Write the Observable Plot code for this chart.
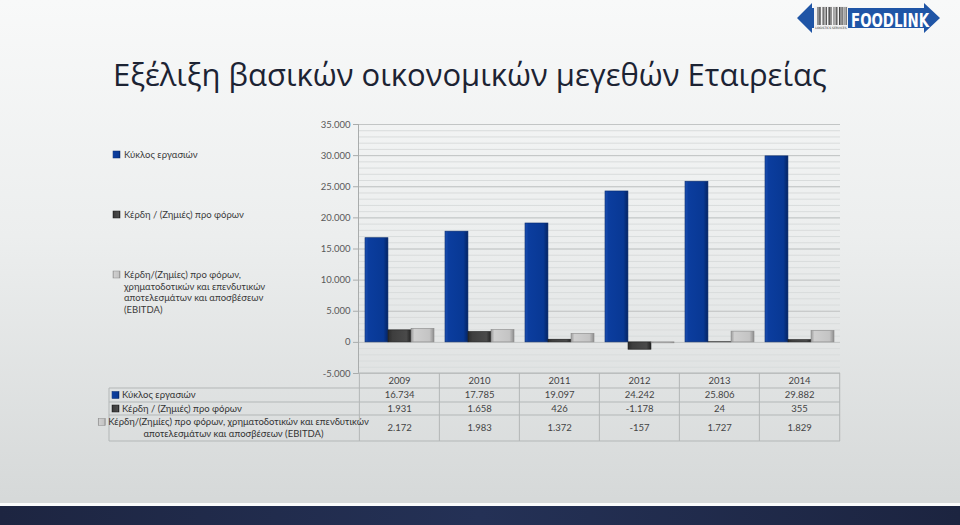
<!DOCTYPE html>
<html>
<head>
<meta charset="utf-8">
<script src="https://cdn.jsdelivr.net/npm/d3@7"></script>
<script src="https://cdn.jsdelivr.net/npm/@observablehq/plot@0.6"></script>
<style>
  html, body { margin: 0; padding: 0; }
  body { width: 960px; height: 525px; overflow: hidden; font-family: Lato, "Open Sans", sans-serif; }
  #page { position: relative; width: 960px; height: 525px;
    background: linear-gradient(#f8f9f9 0%, #eceeee 45%, #d6d9d9 95%); }
  #bg { position: absolute; left: 0; top: 0; }
  #chart { position: absolute; left: 0; top: 110px; }
</style>
</head>
<body>
<div id="page">
<svg id="bg" width="960" height="525">
  <defs>
    <linearGradient id="gBlue" x1="0" x2="1" y1="0" y2="0">
      <stop offset="0" stop-color="#1d4fb0"/>
      <stop offset="0.15" stop-color="#0b3d9e"/>
      <stop offset="0.8" stop-color="#083894"/>
      <stop offset="1" stop-color="#052463"/>
    </linearGradient>
    <linearGradient id="gDark" x1="0" x2="1" y1="0" y2="0">
      <stop offset="0" stop-color="#2c2c2c"/>
      <stop offset="0.2" stop-color="#3e3e3e"/>
      <stop offset="0.8" stop-color="#4a4a4a"/>
      <stop offset="1" stop-color="#222"/>
    </linearGradient>
    <linearGradient id="gLight" x1="0" x2="1" y1="0" y2="0">
      <stop offset="0" stop-color="#9c9c9c"/>
      <stop offset="0.15" stop-color="#cfcfcf"/>
      <stop offset="0.8" stop-color="#c4c4c4"/>
      <stop offset="1" stop-color="#8e8e8e"/>
    </linearGradient>
    <linearGradient id="gBand" x1="0" x2="1" y1="0" y2="0">
      <stop offset="0" stop-color="#1d2541"/>
      <stop offset="0.5" stop-color="#243156"/>
      <stop offset="1" stop-color="#1c2440"/>
    </linearGradient>
  </defs>
  <rect x="0" y="503" width="960" height="3" fill="#fbfcfc"/>
  <rect x="0" y="506" width="960" height="19" fill="url(#gBand)"/>
  <text id="title" x="113" y="86" font-family="'Open Sans', Lato, sans-serif" font-size="31" fill="#1c2333">Εξέλιξη βασικών οικονομικών μεγεθών Εταιρείας</text>
  <g id="legend" font-size="9.5" fill="#3a3a3a"></g>
  <g id="logo"></g>
</svg>
<div id="chart"></div>
</div>
<script>
// ---- data ----
const years = ["2009", "2010", "2011", "2012", "2013", "2014"];
const revenue = [16734, 17785, 19097, 24242, 25806, 29882];
const profitBeforeTax = [1931, 1658, 426, -1178, 24, 355];
const ebitda = [2172, 1983, 1372, -157, 1727, 1829];
const seriesNames = [
  "Κύκλος εργασιών",
  "Κέρδη / (Ζημιές) προ φόρων",
  "Κέρδη/(Ζημίες) προ φόρων, χρηματοδοτικών και επενδυτικών αποτελεσμάτων και αποσβέσεων (EBITDA)"
];
const legendLines = [
  ["Κύκλος εργασιών"],
  ["Κέρδη / (Ζημιές) προ φόρων"],
  ["Κέρδη/(Ζημίες) προ φόρων,", "χρηματοδοτικών και επενδυτικών", "αποτελεσμάτων και αποσβέσεων", "(EBITDA)"]
];
const tableLabels = [
  ["Κύκλος εργασιών"],
  ["Κέρδη / (Ζημιές) προ φόρων"],
  ["Κέρδη/(Ζημίες) προ φόρων, χρηματοδοτικών και επενδυτικών", "αποτελεσμάτων και αποσβέσεων (EBITDA)"]
];
const yTicks = [-5000, 0, 5000, 10000, 15000, 20000, 25000, 30000, 35000];
const yMinor = d3.range(-5000, 35001, 1000);
const fills = ["url(#gBlue)", "url(#gDark)", "url(#gLight)"];
const strokes = ["#062a6e", "#1a1a1a", "#8a8a8a"];
const seriesValues = [revenue, profitBeforeTax, ebitda];

const rows = [];
seriesValues.forEach((vals, s) => years.forEach((y, i) => rows.push({year: y, series: s, value: vals[i]})));

const locale = d3.formatLocale({decimal: ",", thousands: ".", grouping: [3], currency: ["", "€"], minus: "-"});
const fmt = locale.format(",d");

// ---- chart ----
const W = 960, H = 340, mL = 358, mR = 120, mT = 14, mB = 77;
const pIn = 0.14, pOut = 0.07;
const step = (W - mL - mR) / (years.length - pIn + 2 * pOut);
const bw = step * (1 - pIn);
const font = "Lato, 'Open Sans', sans-serif";

const barMarks = [0, 1, 2].map(s => Plot.barY(rows.filter(d => d.series === s), {
  x: "year", y: "value",
  fill: fills[s], stroke: strokes[s], strokeWidth: 0.6,
  insetLeft: s * bw / 3, insetRight: (2 - s) * bw / 3
}));

const chart = Plot.plot({
  width: W, height: H,
  marginLeft: mL, marginRight: mR, marginTop: mT, marginBottom: mB,
  style: {fontFamily: font, fontSize: "9.5px", background: "transparent", color: "#595959"},
  x: {type: "band", domain: years, paddingInner: pIn, paddingOuter: pOut, axis: null},
  y: {domain: [-5000, 35000], axis: null, label: null},
  marks: [
    Plot.ruleY(yMinor, {stroke: "#d9dcdc", strokeWidth: 1}),
    Plot.ruleY(yTicks, {stroke: "#c2c5c5", strokeWidth: 1}),
    Plot.axisY({ticks: yTicks, tickFormat: () => "", tickSize: 5, stroke: "#a9acac", label: null}),
    Plot.axisY({ticks: yTicks, tickFormat: fmt, tickSize: 0, tickPadding: 8, fill: "#595959", label: null}),
    Plot.frame({anchor: "left", stroke: "#a9acac"}),
    ...barMarks
  ]
});
document.getElementById("chart").appendChild(chart);

// ---- data table under the chart, positioned from the scales ----
const xs = chart.scale("x"), ys = chart.scale("y");
const svg = d3.select(chart);
const top0 = ys.apply(-5000);
const rowB = [top0, top0 + 15, top0 + 29, top0 + 42, top0 + 68];
const tableLeft = 109, plotLeft = mL, plotRight = W - mR;
const colEdges = years.map(y => xs.apply(y) - step * pIn / 2).concat([xs.apply(years[years.length - 1]) + bw + step * pIn / 2]);
const tg = svg.append("g").attr("font-family", font).attr("font-size", 9.5).attr("text-anchor", "start");
const lineC = "#b3b7b7";
// horizontal lines
tg.append("line").attr("x1", plotLeft).attr("x2", plotRight).attr("y1", rowB[0]).attr("y2", rowB[0]).attr("stroke", lineC);
rowB.slice(1).forEach(yb => tg.append("line").attr("x1", tableLeft).attr("x2", plotRight).attr("y1", yb).attr("y2", yb).attr("stroke", lineC));
// vertical lines
colEdges.forEach(xe => tg.append("line").attr("x1", xe).attr("x2", xe).attr("y1", rowB[0]).attr("y2", rowB[4]).attr("stroke", lineC));
tg.append("line").attr("x1", tableLeft).attr("x2", tableLeft).attr("y1", rowB[1]).attr("y2", rowB[4]).attr("stroke", lineC);
// header
years.forEach(y => tg.append("text").attr("x", xs.apply(y) + bw / 2).attr("y", (rowB[0] + rowB[1]) / 2).attr("dy", "0.35em")
  .attr("text-anchor", "middle").attr("fill", "#444").text(y));
// rows
seriesValues.forEach((vals, s) => {
  const cy = (rowB[s + 1] + rowB[s + 2]) / 2;
  vals.forEach((v, i) => tg.append("text").attr("x", xs.apply(years[i]) + bw / 2).attr("y", cy).attr("dy", "0.35em")
    .attr("text-anchor", "middle").attr("fill", "#444").text(fmt(v)));
  const lines = tableLabels[s];
  if (lines.length === 1) {
    tg.append("rect").attr("x", tableLeft + 3).attr("y", cy - 3.5).attr("width", 7).attr("height", 7).attr("fill", fills[s]).attr("stroke", strokes[s]).attr("stroke-width", 0.5);
    tg.append("text").attr("x", tableLeft + 13).attr("y", cy).attr("dy", "0.35em").attr("text-anchor", "start").attr("fill", "#333").text(lines[0]);
  } else {
    const cx = (tableLeft + plotLeft) / 2;
    lines.forEach((ln, k) => {
      const t = tg.append("text").attr("x", cx + (k === 0 ? 5 : 0)).attr("y", cy + (k - 0.5) * 12).attr("dy", "0.35em")
        .attr("text-anchor", "middle").attr("fill", "#333").text(ln);
      if (k === 0) {
        const bb = t.node().getBBox();
        tg.append("rect").attr("x", bb.x - 10).attr("y", cy - 6 - 3.5).attr("width", 7).attr("height", 7).attr("fill", fills[s]).attr("stroke", strokes[s]).attr("stroke-width", 0.5);
      }
    });
  }
});

// ---- legend (left) ----
const lg = d3.select("#legend").attr("font-family", font);
const legendY = [158, 218, 278];
legendLines.forEach((lines, s) => {
  lg.append("rect").attr("x", 113).attr("y", legendY[s] - 7).attr("width", 7).attr("height", 7)
    .attr("fill", fills[s]).attr("stroke", strokes[s]).attr("stroke-width", 0.5);
  lines.forEach((ln, k) => lg.append("text").attr("x", 124).attr("y", legendY[s] + k * 11.7).text(ln));
});

// ---- logo ----
const logo = d3.select("#logo");
logo.append("path").attr("d", "M797,18 L812,3 L812,8 L924,8 L924,3 L940,18 L924,33 L924,28 L812,28 L812,33 Z").attr("fill", "#1f55a6");
logo.append("rect").attr("x", 814).attr("y", 6).attr("width", 34).attr("height", 24).attr("fill", "#f2f2f2");
d3.range(0, 28).forEach(i => {
  if ((i * 7) % 5 !== 0) logo.append("rect").attr("x", 816 + i * 1.1).attr("y", 7).attr("width", (i % 3 === 0) ? 0.9 : 0.5).attr("height", 18).attr("fill", "#333");
});
logo.append("text").attr("x", 831).attr("y", 29).attr("font-size", 3).attr("text-anchor", "middle").attr("fill", "#333").attr("font-family", "DejaVu Sans").text("LOGISTICS SERVICES");
logo.append("text").attr("x", 851).attr("y", 27).attr("font-size", 20).attr("font-weight", "bold")
  .attr("font-family", "'DejaVu Sans Condensed', 'Liberation Sans Narrow', sans-serif").attr("fill", "#fff")
  .attr("textLength", 78).attr("lengthAdjust", "spacingAndGlyphs").text("FOODLINK");
</script>
</body>
</html>
